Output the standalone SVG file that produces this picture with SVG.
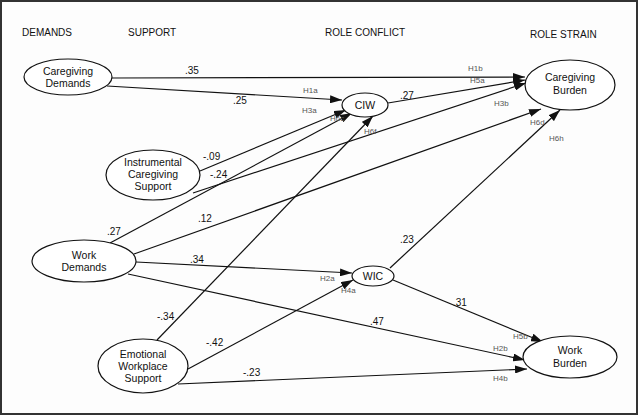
<svg xmlns="http://www.w3.org/2000/svg" width="639" height="416" viewBox="0 0 639 416">
<style>
text{font-family:"Liberation Sans",Arial,sans-serif;fill:#111}
.h{font-size:10px}
.n{font-size:10.5px;text-anchor:middle}
.c{font-size:10px}
.l{font-size:8px;fill:#555}
ellipse{fill:#fff;stroke:#111;stroke-width:1.2}
#edges line{stroke:#111;stroke-width:1.2;marker-end:url(#a)}
</style>
<defs><marker id="a" viewBox="0 0 12 8" refX="12" refY="4" markerWidth="12" markerHeight="8" markerUnits="userSpaceOnUse" orient="auto"><path d="M0,0L12,4L0,8z" fill="#111"/></marker></defs>
<rect x="1" y="1" width="636" height="413" fill="#fdfdfd" stroke="#333" stroke-width="2"/>
<text class="h" x="22" y="36">DEMANDS</text>
<text class="h" x="128" y="36">SUPPORT</text>
<text class="h" x="325" y="36">ROLE CONFLICT</text>
<text class="h" x="530" y="38">ROLE STRAIN</text>
<g id="edges">
<line x1="112" y1="78" x2="525" y2="77"/>
<line x1="107" y1="86" x2="342" y2="100"/>
<line x1="388" y1="103" x2="525" y2="80"/>
<line x1="200" y1="171" x2="346" y2="110"/>
<line x1="193" y1="193" x2="526" y2="83"/>
<line x1="110" y1="243" x2="352" y2="113"/>
<line x1="134" y1="254" x2="541" y2="109"/>
<line x1="136" y1="262" x2="352" y2="273"/>
<line x1="128" y1="274" x2="525" y2="360"/>
<line x1="157" y1="340" x2="373" y2="116"/>
<line x1="188" y1="369" x2="353" y2="280"/>
<line x1="178" y1="384" x2="527" y2="369"/>
<line x1="390" y1="268" x2="560" y2="110"/>
<line x1="393" y1="280" x2="543" y2="342"/>
<text class="c" x="185" y="74">.35</text>
<text class="c" x="233" y="104">.25</text>
<text class="c" x="400" y="99">.27</text>
<text class="c" x="203" y="160">-.09</text>
<text class="c" x="210" y="178">-.24</text>
<text class="c" x="107" y="235">.27</text>
<text class="c" x="198" y="222">.12</text>
<text class="c" x="190" y="263">.34</text>
<text class="c" x="370" y="325">.47</text>
<text class="c" x="157" y="320">-.34</text>
<text class="c" x="206" y="346">-.42</text>
<text class="c" x="243" y="376">-.23</text>
<text class="c" x="400" y="243">.23</text>
<text class="c" x="453" y="306">.31</text>
<text class="l" x="468" y="71">H1b</text>
<text class="l" x="470" y="83">H5a</text>
<text class="l" x="303" y="93">H1a</text>
<text class="l" x="302" y="113">H3a</text>
<text class="l" x="330" y="121">H6c</text>
<text class="l" x="364" y="134">H6f</text>
<text class="l" x="494" y="106">H3b</text>
<text class="l" x="530" y="125">H6d</text>
<text class="l" x="549" y="141">H6h</text>
<text class="l" x="320" y="281">H2a</text>
<text class="l" x="341" y="293">H4a</text>
<text class="l" x="513" y="339">H5b</text>
<text class="l" x="493" y="351">H2b</text>
<text class="l" x="493" y="381">H4b</text>
</g>
<g id="cd"><ellipse cx="68" cy="77" rx="44" ry="18"/><text class="n" x="68" y="75">Caregiving</text><text class="n" x="68" y="87">Demands</text></g>
<g id="ics"><ellipse cx="153" cy="175" rx="47" ry="25"/><text class="n" x="153" y="166">Instrumental</text><text class="n" x="153" y="178">Caregiving</text><text class="n" x="153" y="190">Support</text></g>
<g id="wd"><ellipse cx="84" cy="261" rx="52" ry="21"/><text class="n" x="84" y="259">Work</text><text class="n" x="84" y="271">Demands</text></g>
<g id="ews"><ellipse cx="143" cy="366" rx="45" ry="27"/><text class="n" x="143" y="358">Emotional</text><text class="n" x="143" y="370">Workplace</text><text class="n" x="143" y="382">Support</text></g>
<g id="ciw"><ellipse cx="365" cy="105" rx="23" ry="12"/><text class="n" x="365" y="109">CIW</text></g>
<g id="wic"><ellipse cx="373" cy="276" rx="21" ry="10"/><text class="n" x="373" y="280">WIC</text></g>
<g id="cb"><ellipse cx="570" cy="85" rx="45" ry="25"/><text class="n" x="570" y="81">Caregiving</text><text class="n" x="570" y="94">Burden</text></g>
<g id="wb"><ellipse cx="570" cy="357" rx="47" ry="21"/><text class="n" x="570" y="354">Work</text><text class="n" x="570" y="367">Burden</text></g>
</svg>
